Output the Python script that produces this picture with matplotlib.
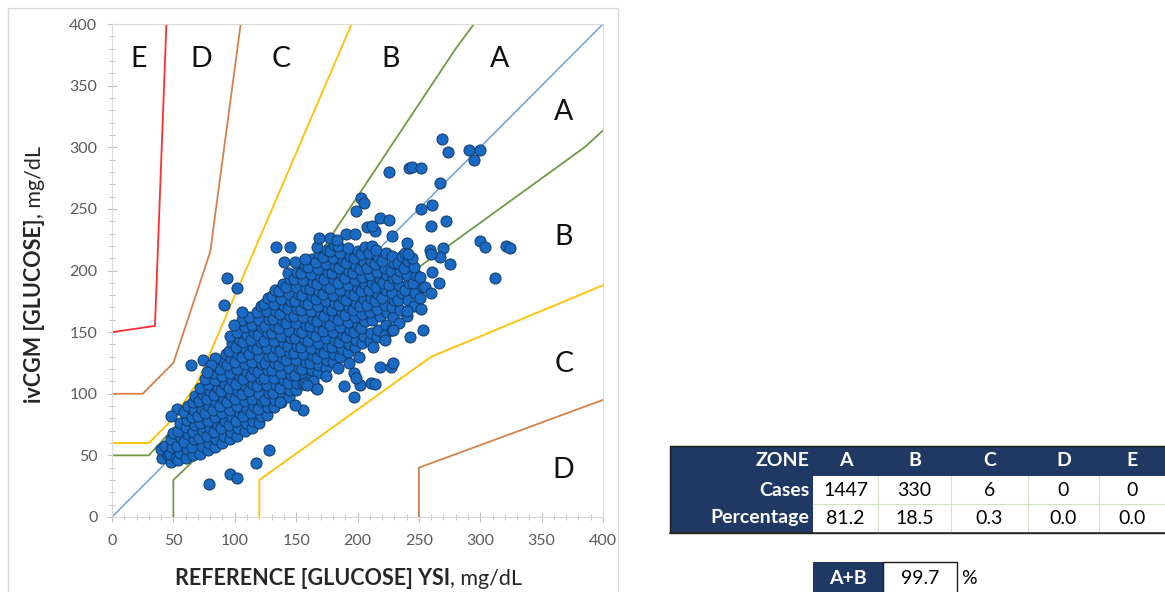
import numpy as np
import matplotlib.pyplot as plt
from matplotlib.patches import Rectangle

plt.rcParams['font.family'] = ['Lato', 'DejaVu Sans']

# Parkes (consensus) error grid boundaries, type 1
zone_a_up = ([0, 30, 140, 280, 400], [50, 50, 170, 380, 541])
zone_a_lo = ([50, 50, 170, 385, 400], [0, 30, 145, 300, 313.6])
zone_b_up = ([0, 30, 50, 70, 260], [60, 60, 80, 110, 550])
zone_b_lo = ([120, 120, 260, 400], [0, 30, 130, 188])
zone_c_up = ([0, 25, 50, 80, 125], [100, 100, 125, 215, 550])
zone_c_lo = ([250, 250, 400], [0, 40, 95])
zone_d_up = ([0, 35, 50], [150, 155, 550])

# (reference YSI, ivCGM) readings, mg/dL
readings_low = [
    (41, 48), (44, 53), (40, 55), (43, 58), (46, 50),
    (48, 45), (47, 51), (49, 57), (48, 63), (50, 68), (52, 48),
    (54, 46), (55, 52), (53, 58), (56, 64), (54, 70), (55, 76), (53, 88),
    (60, 48), (61, 55), (59, 61), (62, 67), (60, 73), (61, 79), (59, 85), (62, 90),
    (66, 50), (65, 57), (67, 63), (66, 69), (68, 75), (65, 81), (67, 87), (66, 93), (68, 98),
    (72, 51), (73, 58), (71, 64), (74, 70), (72, 76), (70, 82), (73, 88), (71, 94), (74, 100), (72, 105),
    (78, 54), (79, 60), (77, 66), (80, 72), (78, 78), (76, 84), (79, 90), (77, 96), (80, 102), (78, 108),
    (76, 112), (84, 57), (85, 63), (83, 69), (86, 75), (84, 81), (82, 87), (85, 93), (83, 99), (86, 105),
    (84, 111), (82, 117), (87, 121), (90, 60), (91, 66), (89, 72), (92, 78), (90, 84), (88, 90), (91, 96),
    (89, 102), (92, 108), (90, 114), (88, 120), (91, 126), (93, 132), (96, 63), (97, 69), (95, 75),
    (98, 81), (96, 87), (94, 93), (97, 99), (95, 105), (98, 111), (96, 117), (94, 123), (97, 129),
    (95, 135), (98, 141), (96, 147),
]

readings_mid = [
    (102, 66), (103, 72), (101, 78), (104, 84), (102, 90), (100, 96), (103, 102), (101, 108), (104, 114),
    (102, 120), (100, 126), (103, 132), (101, 138), (104, 144), (102, 150),
    (108, 70), (109, 76), (107, 82), (110, 88), (108, 94), (106, 100), (109, 106), (107, 112), (110, 118),
    (108, 124), (106, 130), (109, 136), (107, 142), (110, 148), (108, 154), (106, 160),
    (114, 72), (115, 78), (113, 84), (116, 90), (114, 96), (112, 102), (115, 108), (113, 114), (116, 120),
    (114, 126), (112, 132), (115, 138), (113, 144), (116, 150), (114, 156), (112, 162),
    (120, 76), (121, 82), (119, 88), (122, 94), (120, 100), (118, 106), (121, 112), (119, 118), (122, 124),
    (120, 130), (118, 136), (121, 142), (119, 148), (122, 154), (120, 160), (118, 166), (121, 171),
    (126, 83), (127, 89), (125, 95), (128, 101), (126, 107), (124, 113), (127, 119), (125, 125), (128, 131),
    (126, 137), (124, 143), (127, 149), (125, 155), (128, 161), (126, 167), (124, 173), (127, 178),
    (132, 89), (133, 95), (131, 101), (134, 107), (132, 113), (130, 119), (133, 125), (131, 131), (134, 137),
    (132, 143), (130, 149), (133, 155), (131, 161), (134, 167), (132, 173), (130, 179), (133, 184),
    (138, 93), (139, 99), (137, 105), (140, 111), (138, 117), (136, 123), (139, 129), (137, 135), (140, 141),
    (138, 147), (136, 153), (139, 159), (137, 165), (140, 171), (138, 177), (136, 183), (139, 189),
    (144, 97), (145, 103), (143, 109), (146, 115), (144, 121), (142, 127), (145, 133), (143, 139), (146, 145),
    (144, 151), (142, 157), (145, 163), (143, 169), (146, 175), (144, 181), (142, 187), (145, 193), (143, 198),
    (150, 103), (151, 109), (149, 115), (152, 121), (150, 127), (148, 133), (151, 139), (149, 145), (152, 151),
    (150, 157), (148, 163), (151, 169), (149, 175), (152, 181), (150, 187), (148, 193), (151, 199),
    (156, 108), (157, 114), (155, 120), (158, 126), (156, 132), (154, 138), (157, 144), (155, 150), (158, 156),
    (156, 162), (154, 168), (157, 174), (155, 180), (158, 186), (156, 192), (154, 198), (157, 204),
]

readings_high = [
    (162, 113), (163, 119), (161, 125), (164, 131), (162, 137), (160, 143), (163, 149), (161, 155), (164, 161),
    (162, 167), (160, 173), (163, 179), (161, 185), (164, 191), (162, 197), (160, 203), (163, 209),
    (168, 117), (169, 123), (167, 129), (170, 135), (168, 141), (166, 147), (169, 153), (167, 159), (170, 165),
    (168, 171), (166, 177), (169, 183), (167, 189), (170, 195), (168, 201), (166, 207), (169, 213), (167, 219),
    (174, 121), (175, 127), (173, 133), (176, 139), (174, 145), (172, 151), (175, 157), (173, 163), (176, 169),
    (174, 175), (172, 181), (175, 187), (173, 193), (176, 199), (174, 205), (172, 211), (175, 217),
    (180, 126), (181, 132), (179, 138), (182, 144), (180, 150), (178, 156), (181, 162), (179, 168), (182, 174),
    (180, 180), (178, 186), (181, 192), (179, 198), (182, 204), (180, 210), (178, 216), (181, 221),
    (186, 130), (187, 136), (185, 142), (188, 148), (186, 154), (184, 160), (187, 166), (185, 172), (188, 178),
    (186, 184), (184, 190), (187, 196), (185, 202), (188, 208), (186, 214), (184, 220),
    (192, 134), (193, 140), (191, 146), (194, 152), (192, 158), (190, 164), (193, 170), (191, 176), (194, 182),
    (192, 188), (190, 194), (193, 200), (191, 206), (194, 212), (192, 218),
    (198, 138), (199, 144), (197, 150), (200, 156), (198, 162), (196, 168), (199, 174), (197, 180), (200, 186),
    (198, 192), (196, 198), (199, 204), (197, 210), (200, 216),
    (204, 141), (205, 147), (203, 153), (206, 159), (204, 165), (202, 171), (205, 177), (203, 183), (206, 189),
    (204, 195), (202, 201), (205, 207), (203, 213), (206, 219),
    (210, 143), (211, 149), (212, 160), (210, 166), (208, 172), (211, 178), (209, 184), (212, 190), (210, 196),
    (208, 202), (211, 208), (209, 214), (212, 220),
    (216, 146), (217, 152), (218, 163), (216, 169), (214, 175), (217, 181), (215, 187), (218, 193), (216, 199),
    (214, 205), (217, 211), (215, 217),
    (222, 148), (223, 156), (224, 166), (222, 172), (220, 178), (223, 184), (221, 190), (224, 196), (222, 202),
    (220, 208), (223, 214),
    (228, 152), (229, 162), (228, 170), (230, 176), (228, 182), (226, 188), (229, 194), (227, 200), (230, 206),
    (228, 212),
    (234, 157), (235, 168), (233, 176), (236, 182), (234, 188), (232, 194), (235, 200), (233, 206), (236, 212),
    (240, 163), (241, 176), (239, 184), (242, 190), (240, 196), (238, 202), (241, 208), (239, 214),
    (246, 171), (247, 182), (245, 190), (248, 196), (246, 203), (244, 210),
    (251, 178), (253, 187), (251, 195),
]

readings_outlying = [
    (269, 307), (274, 296), (291, 298), (295, 290), (300, 298),
    (226, 280), (242, 283), (244, 284), (252, 283), (267, 271),
    (203, 259), (205, 255), (199, 248), (252, 250), (261, 253),
    (218, 243), (226, 241), (272, 240), (260, 236),
    (300, 224), (304, 219), (321, 220), (324, 218), (312, 194), (275, 205),
    (243, 146), (253, 152), (252, 169), (240, 167), (261, 199), (255, 187), (260, 182), (266, 190),
    (259, 217), (270, 218), (267, 211), (260, 213), (240, 222), (241, 213), (228, 228),
    (208, 235), (214, 232), (212, 236), (191, 230), (198, 230), (169, 226), (178, 226), (183, 225),
    (134, 219), (145, 219), (140, 207), (149, 207), (157, 209),
    (94, 194), (102, 186), (91, 172), (106, 166), (99, 156),
    (64, 123), (74, 127), (84, 129), (81, 123), (77, 118), (48, 82),
    (79, 27), (96, 35), (102, 32), (117, 44), (128, 54),
    (197, 97), (211, 109), (189, 106), (202, 107), (218, 122), (227, 122), (229, 125),
    (184, 121), (157, 109), (166, 105), (174, 114), (156, 87), (149, 91), (137, 93),
    (213, 138), (222, 144), (229, 152), (201, 130), (193, 125), (197, 117), (199, 113), (214, 108),
    (164, 110), (159, 107), (167, 104),
]

zones = ['A', 'B', 'C', 'D', 'E']
cases = [1447, 330, 6, 0, 0]
percentage = [81.2, 18.5, 0.3, 0.0, 0.0]
a_plus_b = 99.7

W, H = 1165, 592
fig = plt.figure(figsize=(W / 100, H / 100), dpi=100)

# light frame around the chart area
fig.add_artist(Rectangle((8 / W, -0.05), 610 / W, 1 - 8 / H + 0.05, transform=fig.transFigure,
                         fill=False, edgecolor='#d9d9d9', linewidth=1.0))

ax = fig.add_axes([112 / W, 1 - 517 / H, 491 / W, 493 / H])

ax.plot([0, 400], [0, 400], color='#6f9fd8', lw=1.1, zorder=2)
ax.plot(*zone_a_up, color='#6f9a45', lw=1.3, zorder=2)
ax.plot(*zone_a_lo, color='#6f9a45', lw=1.3, zorder=2)
ax.plot(*zone_b_up, color='#ffc000', lw=1.3, zorder=2)
ax.plot(*zone_b_lo, color='#ffc000', lw=1.3, zorder=2)
ax.plot(*zone_c_up, color='#d4804a', lw=1.3, zorder=2)
ax.plot(*zone_c_lo, color='#d4804a', lw=1.3, zorder=2)
ax.plot(*zone_d_up, color='#ff2e2e', lw=1.3, zorder=2)

pts = np.array(readings_low + readings_mid + readings_high + readings_outlying)
ax.scatter(pts[:, 0], pts[:, 1], s=64, c='#1a69c2', edgecolors='#123a66', linewidths=0.7, zorder=3)

# zone letters
for x, y, lab in [(22, 372, 'E'), (73, 372, 'D'), (138, 372, 'C'), (227, 372, 'B'), (316, 372, 'A'),
                  (368, 329, 'A'), (368, 227, 'B'), (368, 124, 'C'), (368, 38, 'D')]:
    ax.text(x, y, lab, fontsize=20.5, ha='center', va='center', color='#111111')

ax.set_xlim(0, 400)
ax.set_ylim(0, 400)
ax.set_xticks(np.arange(0, 401, 50))
ax.set_yticks(np.arange(0, 401, 50))
ax.set_xticks(np.arange(0, 401, 10), minor=True)
ax.set_yticks(np.arange(0, 401, 10), minor=True)
ax.tick_params(which='major', direction='inout', length=7, color='#bfbfbf', labelsize=11.5,
               labelcolor='#595959')
ax.tick_params(axis='x', which='major', pad=9)
ax.tick_params(axis='y', which='major', pad=7)
ax.tick_params(which='minor', direction='inout', length=5, color='#bfbfbf')
for sp in ax.spines.values():
    sp.set_color('#d9d9d9')

# axis titles: bold part followed by a normal ", mg/dL"
tx = fig.text(175 / W, 1 - 585 / H, 'REFERENCE [GLUCOSE] YSI', fontsize=15.5, fontweight='bold',
              ha='left', va='baseline', color='#262626')
ty = fig.text(41 / W, 1 - 403 / H, 'ivCGM [GLUCOSE]', fontsize=15.5, fontweight='bold',
              rotation=90, rotation_mode='anchor', ha='left', va='baseline', color='#262626')
fig.canvas.draw()
bx = tx.get_window_extent()
by = ty.get_window_extent()
fig.text(bx.x1 / W, 1 - 585 / H, ', mg/dL', fontsize=15.5, ha='left', va='baseline', color='#262626')
fig.text(41 / W, by.y1 / H, ', mg/dL', fontsize=15.5, rotation=90, rotation_mode='anchor',
         ha='left', va='baseline', color='#262626')

# summary table
navy = '#1f3864'


def box(x0, y0, w, h, fc, ec='none', lw=0.0):
    fig.add_artist(Rectangle((x0 / W, 1 - (y0 + h) / H), w / W, h / H, transform=fig.transFigure,
                             facecolor=fc, edgecolor=ec, linewidth=lw))


def hline(x0, x1, y, color, lw=0.8):
    fig.add_artist(plt.Line2D([x0 / W, x1 / W], [1 - y / H, 1 - y / H], transform=fig.transFigure,
                              color=color, lw=lw))


def vline(x, y0, y1, color, lw=0.8):
    fig.add_artist(plt.Line2D([x / W, x / W], [1 - y0 / H, 1 - y1 / H], transform=fig.transFigure,
                              color=color, lw=lw))


def label(x, y, s, color='black', weight='normal', ha='center'):
    fig.text(x / W, 1 - y / H, s, fontsize=14, color=color, fontweight=weight, ha=ha, va='center')


col_edges = [670, 813, 878, 951, 1028, 1099, 1165]
row_edges = [446, 476, 504, 533]
box(670, 446, 496, 87, navy, '#1a1a1a', 1.0)
box(813, 476, 353, 57, 'white')
for xe in col_edges[2:-1]:
    vline(xe, 476, 533, '#cfe2c3')
hline(813, 1165, 504, '#cfe2c3')
hline(670, 1165, 533, '#262626', 1.2)

label(809, 461, 'ZONE', 'white', 'bold', 'right')
label(809, 490, 'Cases', 'white', 'bold', 'right')
label(809, 518, 'Percentage', 'white', 'bold', 'right')
for i, z in enumerate(zones):
    cx = (col_edges[i + 1] + col_edges[i + 2]) / 2
    label(cx, 461, z, 'white', 'bold')
    label(cx, 490, str(cases[i]))
    label(cx, 518, f'{percentage[i]:.1f}')

box(813, 562, 70, 40, navy)
box(883, 562, 74, 40, 'white', '#1a1a1a', 1.0)
label(848, 578, 'A+B', 'white', 'bold')
label(920, 578, f'{a_plus_b:.1f}')
label(961, 578, '%', ha='left')

fig.savefig('out.png', dpi=100)
